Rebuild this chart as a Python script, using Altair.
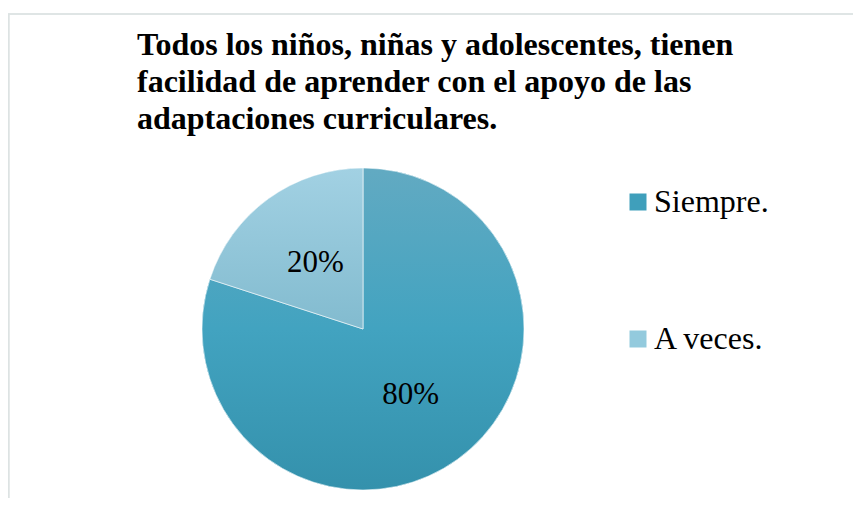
import altair as alt
import pandas as pd

categories = ["Siempre.", "A veces."]
values = [80, 20]
labels = ["80%", "20%"]
order_idx = [0, 1]
title_lines = [
    "Todos los niños, niñas y adolescentes, tienen",
    "facilidad de aprender con el apoyo de las",
    "adaptaciones curriculares.",
]

df = pd.DataFrame({"cat": categories, "val": values, "lab": labels, "idx": order_idx})

W, H = 845, 490
CX, CY = 355, 321
R = 161

solid = ["#3f9fbb", "#93cadd"]
grad_siempre = {
    "gradient": "linear", "x1": 0, "y1": 0, "x2": 0, "y2": 1,
    "stops": [
        {"offset": 0, "color": "#62aac2"},
        {"offset": 0.5, "color": "#42a3c0"},
        {"offset": 1, "color": "#3491ac"},
    ],
}
grad_aveces = {
    "gradient": "linear", "x1": 0, "y1": 0, "x2": 0, "y2": 1,
    "stops": [
        {"offset": 0, "color": "#a2d1e3"},
        {"offset": 1, "color": "#82bbcf"},
    ],
}

base = alt.Chart(df).encode(
    theta=alt.Theta("val:Q", stack=True),
    order=alt.Order("idx:Q"),
    x=alt.value(CX),
    y=alt.value(CY),
)

legend_layer = base.mark_arc(outerRadius=R).encode(
    color=alt.Color(
        "cat:N",
        scale=alt.Scale(domain=categories, range=solid),
        legend=alt.Legend(
            title=None,
            orient="none",
            legendX=614,
            legendY=178,
            symbolType="square",
            symbolSize=289,
            symbolStrokeWidth=0,
            labelFont="Liberation Serif",
            labelFontSize=32,
            labelColor="#000000",
            labelOffset=0,
            rowPadding=105,
            padding=0,
            labelLimit=300,
        ),
    )
)

grad_layer = base.mark_arc(outerRadius=R, stroke="#ffffff", strokeWidth=0.6).encode(
    fill=alt.condition(
        alt.datum.cat == "Siempre.", alt.value(grad_siempre), alt.value(grad_aveces)
    )
)

text_layer = base.mark_text(
    radius=81, font="Liberation Serif", fontSize=31, color="#000000", baseline="middle"
).encode(text="lab:N")

border_left = alt.Chart(df).mark_rule(color="#dde3e3", strokeWidth=1.5).encode(
    x=alt.value(0.75), y=alt.value(6), y2=alt.value(H)
)
border_top = alt.Chart(df).mark_rule(color="#dde3e3", strokeWidth=1.5).encode(
    x=alt.value(0), x2=alt.value(W), y=alt.value(6)
)

chart = (
    alt.layer(border_left, border_top, legend_layer, grad_layer, text_layer)
    .properties(
        width=W,
        height=H,
        autosize=alt.AutoSizeParams(type="none"),
        padding=0,
        title=alt.TitleParams(
            text=title_lines,
            anchor="start",
            frame="group",
            dx=129,
            offset=-128,
            font="Liberation Serif",
            fontSize=32,
            fontWeight="bold",
            color="#000000",
            lineHeight=37,
        ),
    )
    .configure_view(stroke=None)
)

chart.save("out.html", embed_options={"renderer": "svg", "actions": False})
